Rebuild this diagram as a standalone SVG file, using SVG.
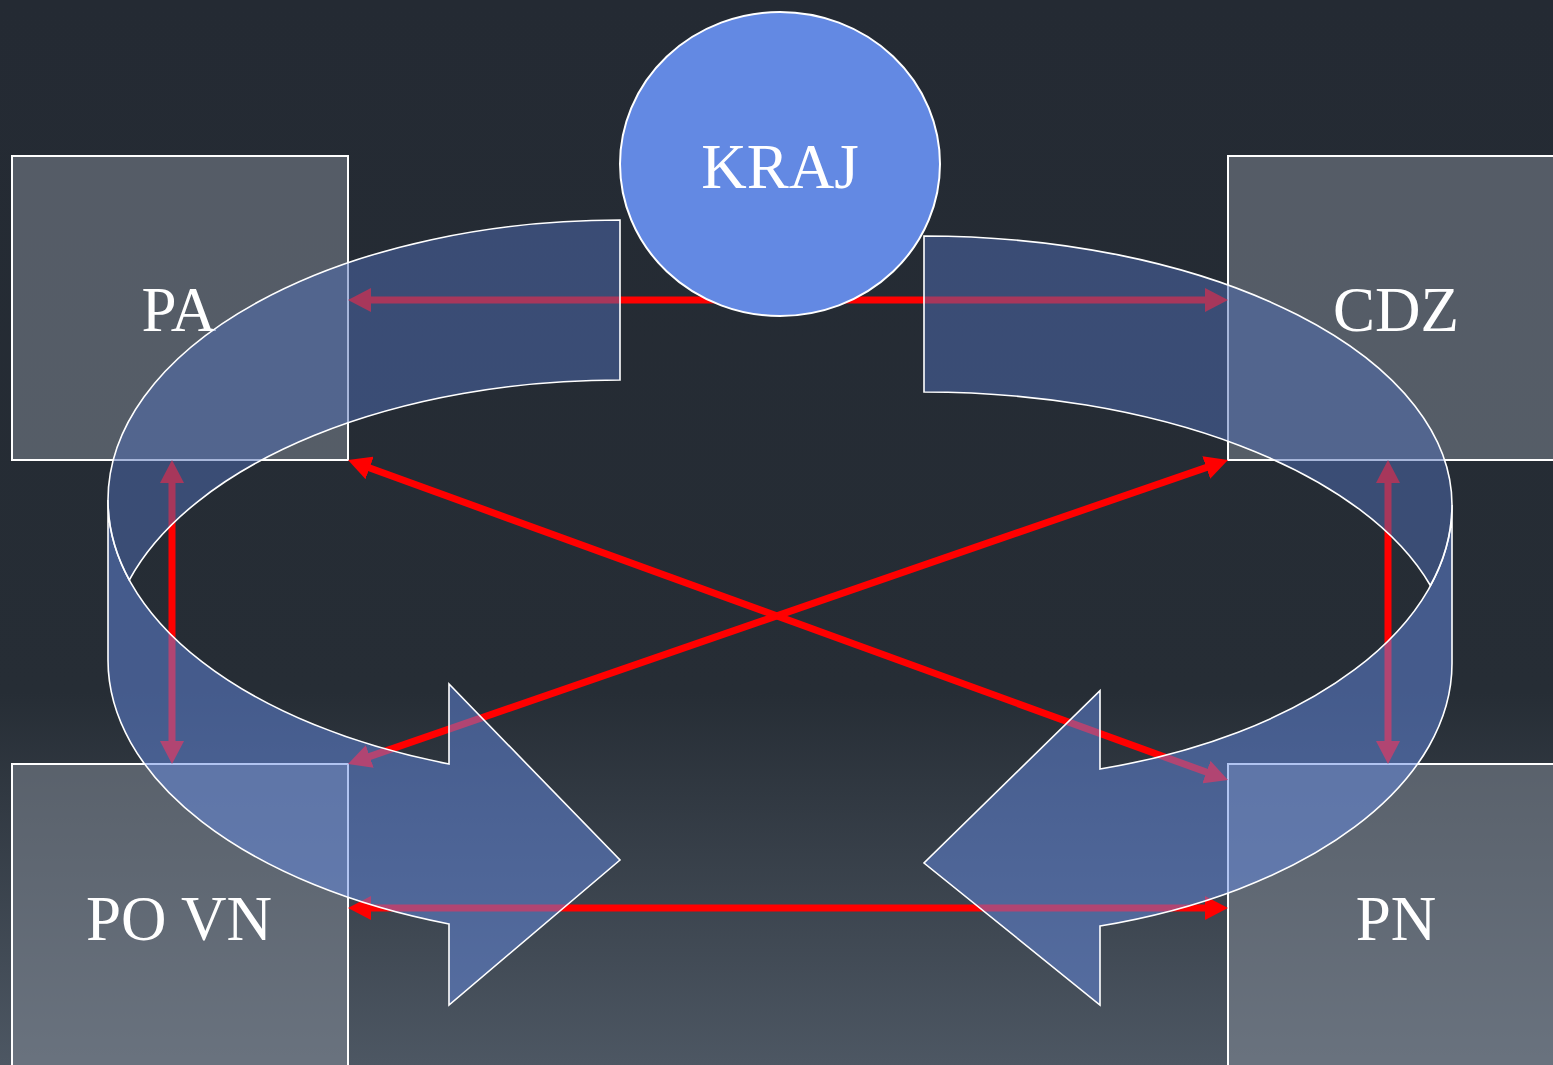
<svg xmlns="http://www.w3.org/2000/svg" width="1553" height="1065" viewBox="0 0 1553 1065">
<defs>
<linearGradient id="bg" x1="0" y1="0" x2="0" y2="1065" gradientUnits="userSpaceOnUse">
<stop offset="0" stop-color="#242a33"/>
<stop offset="0.65" stop-color="#262d35"/>
<stop offset="1" stop-color="#4d5763"/>
</linearGradient>
<marker id="ah" viewBox="0 0 23 24" markerWidth="23" markerHeight="24" refX="2" refY="12" orient="auto-start-reverse" markerUnits="userSpaceOnUse"><path d="M0,0 L23,12 L0,24 Z" fill="#ff0000"/></marker>
<style>
.box{fill:#868e99;fill-opacity:0.5;stroke:#ffffff;stroke-width:2}
.lbl{font-family:"Liberation Serif","Times New Roman",serif;font-size:63px;fill:#ffffff;text-anchor:middle}
.conn{stroke:#ff0000;stroke-width:7;fill:none;marker-start:url(#ah);marker-end:url(#ah)}
.front{fill:#6389e3;fill-opacity:0.5;stroke:#ffffff;stroke-width:1.6}
.back{fill:#4f6eb6;fill-opacity:0.5;stroke:#ffffff;stroke-width:1.6}
</style>
</defs>
<rect x="0" y="0" width="1553" height="1065" fill="url(#bg)"/>
<g id="node-pa"><rect class="box" x="12" y="156" width="336" height="304"/><text class="lbl" x="179" y="331">PA</text></g>
<g id="node-cdz"><rect class="box" x="1228" y="156" width="336" height="304"/><text class="lbl" x="1396" y="331">CDZ</text></g>
<g id="node-povn"><rect class="box" x="12" y="764" width="336" height="310"/><text class="lbl" x="179" y="940">PO VN</text></g>
<g id="node-pn"><rect class="box" x="1228" y="764" width="336" height="310"/><text class="lbl" x="1396" y="940">PN</text></g>
<g id="connectors">
<line class="conn" x1="369" y1="300" x2="1207" y2="300"/>
<line class="conn" x1="172" y1="481" x2="172" y2="743"/>
<line class="conn" x1="1388" y1="481" x2="1388" y2="743"/>
<line class="conn" x1="369" y1="908" x2="1207" y2="908"/>
<line class="conn" x1="367.74" y1="467.18" x2="1208.26" y2="772.82"/>
<line class="conn" x1="1208.15" y1="466.86" x2="367.85" y2="757.14"/>
</g>
<g id="curved-arrow-left">
<path class="front" d="M108,500 L108,660 A512,280 0 0 0 449,924 L449,1005 L620,860 L449,684 L449,764 A512,280 0 0 1 108,500 Z"/>
<path class="back" d="M620,220 A512,280 0 0 0 108,500 A512,280 0 0 0 129.3,580 A512,280 0 0 1 620,380 Z"/>
</g>
<g id="curved-arrow-right">
<path class="front" d="M1452,505 L1452,662 A492,274 0 0 1 1100,926 L1100,1005 L924,863 L1100,690.6 L1100,769 A492,275 0 0 0 1452,505 Z"/>
<path class="back" d="M924,236 A528,269 0 0 1 1452,505 A492,275 0 0 1 1430.4,585.5 A528,270 0 0 0 924,392 Z"/>
</g>
<g id="node-kraj"><ellipse cx="780" cy="164" rx="160" ry="152" fill="#6389e3" stroke="#ffffff" stroke-width="2"/><text class="lbl" x="780" y="188">KRAJ</text></g>
</svg>
